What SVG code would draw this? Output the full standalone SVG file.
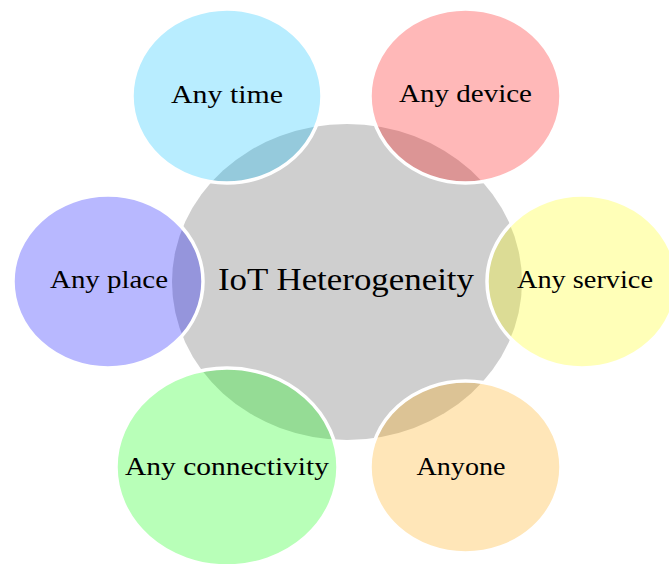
<svg xmlns="http://www.w3.org/2000/svg" width="669" height="564" viewBox="0 0 669 564">
<style>
.sat{stroke:#ffffff;stroke-width:3.5;fill-opacity:0.28}
.lbl{font-family:"Liberation Serif","DejaVu Serif",serif;font-size:25px;fill:#000;text-anchor:middle}
.big{font-size:31px}
</style>
<rect width="669" height="564" fill="#ffffff"/>
<g id="center">
<ellipse cx="347" cy="282" rx="175" ry="158" fill="#cfcfcf"/>
<text class="lbl big" x="346" y="290" textLength="256" lengthAdjust="spacingAndGlyphs">IoT Heterogeneity</text>
</g>
<g id="any-time">
<ellipse class="sat" cx="227" cy="96" rx="95" ry="87" fill="#00bfff" fill-opacity="0.3"/>
<text class="lbl" x="227" y="103" textLength="112" lengthAdjust="spacingAndGlyphs">Any time</text>
</g>
<g id="any-device">
<ellipse class="sat" cx="465.5" cy="96" rx="95.5" ry="87" fill="#ff0000"/>
<text class="lbl" x="465.5" y="102" textLength="133" lengthAdjust="spacingAndGlyphs">Any device</text>
</g>
<g id="any-place">
<ellipse class="sat" cx="108" cy="281.5" rx="95" ry="86.5" fill="#0000ff"/>
<text class="lbl" x="109" y="288" textLength="118" lengthAdjust="spacingAndGlyphs">Any place</text>
</g>
<g id="any-service">
<ellipse class="sat" cx="582" cy="281.5" rx="95" ry="86.5" fill="#ffff00" fill-opacity="0.2"/>
<text class="lbl" x="585" y="288" textLength="136" lengthAdjust="spacingAndGlyphs">Any service</text>
</g>
<g id="any-connectivity">
<ellipse class="sat" cx="227" cy="467" rx="111" ry="99" fill="#00ff00" fill-opacity="0.27"/>
<text class="lbl" x="227" y="475" textLength="204" lengthAdjust="spacingAndGlyphs">Any connectivity</text>
</g>
<g id="anyone">
<ellipse class="sat" cx="465.5" cy="467" rx="95.5" ry="86" fill="#ffa500"/>
<text class="lbl" x="461" y="475" textLength="89" lengthAdjust="spacingAndGlyphs">Anyone</text>
</g>
</svg>
